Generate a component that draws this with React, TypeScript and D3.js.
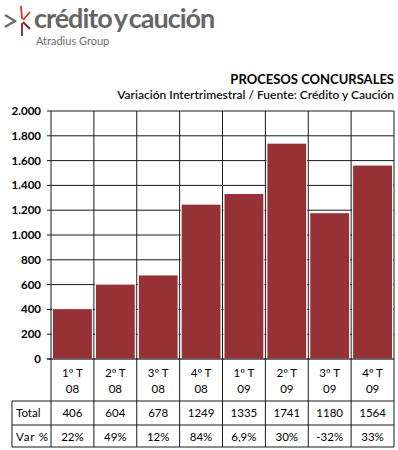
import React from "react";
import * as d3 from "d3";

const quarters = ["1º T", "2º T", "3º T", "4º T", "1º T", "2º T", "3º T", "4º T"];
const years = ["08", "08", "08", "08", "09", "09", "09", "09"];
const totals = [406, 604, 678, 1249, 1335, 1741, 1180, 1564];
const varPct = ["22%", "49%", "12%", "84%", "6,9%", "30%", "-32%", "33%"];
const yTicks = [0, 200, 400, 600, 800, 1000, 1200, 1400, 1600, 1800, 2000];
const title = "PROCESOS CONCURSALES";
const subtitle = "Variación Intertrimestral / Fuente: Crédito y Caución";

const FONT = "Lato, 'Open Sans', sans-serif";

export default function App() {
  const W = 398, H = 450;
  const left = 51, right = 394, top = 111, bottom = 359;
  const tableTop1 = 401, tableMid = 425, tableBot = 447, tableLeft = 12;

  const x = d3.scaleBand<number>().domain(d3.range(totals.length)).range([left, right]).padding(0);
  const y = d3.scaleLinear().domain([0, 2000]).range([bottom, top]);
  const fmt = (v: number) => d3.format(",")(v).replace(/,/g, ".");
  const bw = x.bandwidth();
  const boundaries = d3.range(totals.length + 1).map((i) => left + i * bw);

  return (
    <svg width={W} height={H} style={{ position: "absolute", left: 0, top: 0, background: "#fff" }}>
      {/* Logo */}
      <g>
        <path d="M5,15 L15,21 L5,27" fill="none" stroke="#6b6b6b" strokeWidth={2.2} />
        <path d="M21,6 L22,19" stroke="#d9322d" strokeWidth={1.8} />
        <path d="M23,20 L30,12" stroke="#d9322d" strokeWidth={1.8} />
        <path d="M23,22 L30,29" stroke="#8b1e1e" strokeWidth={1.8} />
        <path d="M22,23 L22,36" stroke="#8b1e1e" strokeWidth={1.8} />
        <text x={34} y={28} fontFamily={FONT} fontSize={27} fill="#666" letterSpacing={-1} fontWeight={700}>
          crédito<tspan dx={-3}> </tspan>y<tspan dx={-3}> </tspan>caución
        </text>
        <text x={36} y={45} fontFamily={FONT} fontSize={11} fill="#6e6e6e">
          Atradius Group
        </text>
      </g>

      {/* Titles */}
      <text x={394} y={84} textAnchor="end" fontFamily={FONT} fontSize={13} fontWeight={700} fill="#000">
        {title}
      </text>
      <text x={394} y={99} textAnchor="end" fontFamily={FONT} fontSize={12} fontWeight={600} fill="#111">
        {subtitle}
      </text>

      {/* Gridlines and ticks */}
      {yTicks.map((t) => (
        <g key={t}>
          <line x1={left - 4} x2={right} y1={y(t)} y2={y(t)} stroke="#1a1a1a" strokeWidth={1} />
          <text x={41} y={y(t)} dy="0.35em" textAnchor="end" fontFamily={FONT} fontSize={11.5} fontWeight={700} fill="#000">
            {fmt(t)}
          </text>
        </g>
      ))}

      {/* Vertical lines */}
      {boundaries.map((bx, i) => (
        <line key={i} x1={bx} x2={bx} y1={top} y2={tableBot} stroke="#1a1a1a" strokeWidth={1} />
      ))}

      {/* Bars */}
      {totals.map((v, i) => (
        <rect
          key={i}
          x={(x(i) as number) + 1.5}
          y={y(v)}
          width={bw - 3}
          height={y(0) - y(v)}
          fill="#963236"
          stroke="#fff"
          strokeWidth={1}
        />
      ))}

      {/* Axis line */}
      <line x1={left - 4} x2={right} y1={bottom} y2={bottom} stroke="#1a1a1a" strokeWidth={1} />

      {/* Table */}
      {[tableTop1, tableMid, tableBot].map((ty, i) => (
        <line key={i} x1={tableLeft} x2={right} y1={ty} y2={ty} stroke="#1a1a1a" strokeWidth={1} />
      ))}
      <line x1={tableLeft} x2={tableLeft} y1={tableTop1} y2={tableBot} stroke="#1a1a1a" strokeWidth={1} />

      {quarters.map((q, i) => {
        const cx = (x(i) as number) + bw / 2;
        return (
          <g key={i} fontFamily={FONT} fontSize={11.5} fill="#000" textAnchor="middle">
            <text x={cx} y={377}>{q}</text>
            <text x={cx} y={393}>{years[i]}</text>
            <text x={cx} y={416.5}>{totals[i]}</text>
            <text x={cx} y={440.5}>{varPct[i]}</text>
          </g>
        );
      })}
      <text x={16} y={416.5} fontFamily={FONT} fontSize={11.5} fill="#000">Total</text>
      <text x={16} y={440.5} fontFamily={FONT} fontSize={11.5} fill="#000" letterSpacing={0.8}>Var %</text>
    </svg>
  );
}
